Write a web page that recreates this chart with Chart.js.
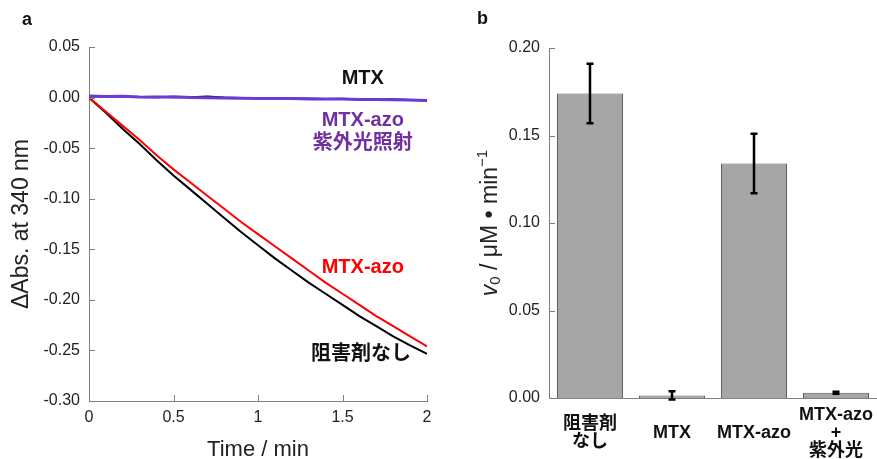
<!DOCTYPE html>
<html>
<head>
<meta charset="utf-8">
<script src="https://cdn.jsdelivr.net/npm/chart.js@4.4.0/dist/chart.umd.min.js"></script>
<style>
    body { margin: 0; background: #fff; }
    #wrap { position: relative; width: 877px; height: 459px; }
    #kinetics { position: absolute; left: 0; top: 0; }
    #rates { position: absolute; left: 440px; top: 0; }
    .panel { position: absolute; font: bold 18px "Liberation Sans", Arial, sans-serif; color: #111; }
</style>
</head>
<body>
<div id="wrap">
    <canvas id="kinetics" width="440" height="459"></canvas>
    <canvas id="rates" width="437" height="459"></canvas>
    <div class="panel" style="left:22px; top:9px;">a</div>
    <div class="panel" style="left:477px; top:8px;">b</div>
</div>
<script>
// ---- panel a : absorbance traces ----
var timeMin = [0, 0.1, 0.2, 0.3, 0.4, 0.5, 0.6, 0.7, 0.8, 0.9, 1.0,
               1.1, 1.2, 1.3, 1.4, 1.5, 1.6, 1.7, 1.8, 1.9, 2.0];
var noInhibitor = [0, -0.015, -0.031, -0.046, -0.062, -0.077, -0.091, -0.105, -0.119, -0.133, -0.146,
                   -0.159, -0.171, -0.183, -0.194, -0.205, -0.216, -0.226, -0.236, -0.245, -0.2535];
var mtxAzo = [0, -0.014, -0.028, -0.042, -0.057, -0.071, -0.084, -0.097, -0.110, -0.123, -0.135,
              -0.147, -0.159, -0.171, -0.183, -0.194, -0.205, -0.216, -0.226, -0.236, -0.246];
var mtx = [0.0010, 0.0012, 0.0008, 0.0005, 0.0009, 0.0002, 0.0004, 0.0010, 0.0000, -0.0003, -0.0006,
           -0.0004, -0.0010, -0.0008, -0.0014, -0.0012, -0.0018, -0.0020, -0.0016, -0.0024, -0.0028];
var mtxAzoUv = [0.0015, 0.0010, 0.0012, 0.0006, 0.0004, 0.0007, 0.0000, -0.0002, -0.0004, -0.0006, -0.0008,
                -0.0010, -0.0009, -0.0013, -0.0015, -0.0014, -0.0018, -0.0020, -0.0022, -0.0025, -0.0030];

// ---- panel b : initial rates ----
var categories = [['阻害剤', 'なし'], 'MTX', 'MTX-azo', ['MTX-azo', '+', '紫外光']];
var v0 = [0.174, 0.0015, 0.134, 0.003];
var v0Err = [0.017, 0.0023, 0.017, 0.0006];

Chart.defaults.font.family = '"Liberation Sans", Arial, "Noto Sans CJK JP", sans-serif';
Chart.defaults.color = '#222';

var axisGrey = '#808080';

function points(ys) {
    return ys.map(function(y, i) { return { x: timeMin[i], y: y }; });
}

function fix2(v) {
    return (Math.abs(v) < 1e-9 ? 0 : v).toFixed(2);
}

// tick marks point into the plot in the original figure
var innerTicks = {
    id: 'innerTicks',
    afterDraw: function(chart, args, opts) {
        var ctx = chart.ctx, area = chart.chartArea;
        ctx.save();
        ctx.strokeStyle = axisGrey;
        ctx.lineWidth = 1;
        (opts.axes || []).forEach(function(id) {
            var s = chart.scales[id];
            s.ticks.forEach(function(t, i) {
                var p = Math.round(s.getPixelForTick(i)) + 0.5;
                ctx.beginPath();
                if (s.isHorizontal()) { ctx.moveTo(p, area.bottom); ctx.lineTo(p, area.bottom - 6); }
                else { ctx.moveTo(area.left, p); ctx.lineTo(area.left + 6, p); }
                ctx.stroke();
            });
        });
        ctx.restore();
    }
};

// curve names written next to the traces
var curveNotes = {
    id: 'curveNotes',
    afterDatasetsDraw: function(chart, args, opts) {
        var ctx = chart.ctx, xs = chart.scales.x, ys = chart.scales.y;
        ctx.save();
        ctx.textAlign = 'center';
        ctx.textBaseline = 'middle';
        ctx.font = 'bold 20px "Liberation Sans", Arial, "Noto Sans CJK JP", sans-serif';
        opts.notes.forEach(function(n) {
            ctx.fillStyle = n.color;
            ctx.fillText(n.text, xs.getPixelForValue(n.t), ys.getPixelForValue(n.v));
        });
        ctx.restore();
    }
};

// first dataset is painted on top
new Chart(document.getElementById('kinetics'), {
    type: 'line',
    data: {
        datasets: [
            { label: 'MTX-azo 紫外光照射', data: points(mtxAzoUv), borderColor: '#6b3bd6', borderWidth: 3 },
            { label: 'MTX', data: points(mtx), borderColor: '#000', borderWidth: 2 },
            { label: 'MTX-azo', data: points(mtxAzo), borderColor: '#ff0000', borderWidth: 2 },
            { label: '阻害剤なし', data: points(noInhibitor), borderColor: '#000', borderWidth: 2 }
        ]
    },
    options: {
        responsive: false,
        animation: false,
        elements: { point: { radius: 0 }, line: { tension: 0 } },
        layout: { padding: { left: 0, top: 47, right: 13, bottom: 0 } },
        plugins: {
            legend: { display: false },
            tooltip: { enabled: false },
            innerTicks: { axes: ['x', 'y'] },
            curveNotes: {
                notes: [
                    { text: 'MTX', color: '#111', t: 1.62, v: 0.019 },
                    { text: 'MTX-azo', color: '#7030a0', t: 1.62, v: -0.0225 },
                    { text: '紫外光照射', color: '#7030a0', t: 1.62, v: -0.0455 },
                    { text: 'MTX-azo', color: '#ff0000', t: 1.62, v: -0.168 },
                    { text: '阻害剤なし', color: '#111', t: 1.61, v: -0.2545 }
                ]
            }
        },
        scales: {
            x: {
                type: 'linear', min: 0, max: 2,
                grid: { display: false, drawTicks: false },
                border: { display: true, color: axisGrey, width: 1 },
                ticks: { stepSize: 0.5, padding: 7, font: { size: 16 }, callback: function(v) { return String(v); } },
                title: { display: true, text: 'Time / min', font: { size: 22, lineHeight: 1 }, padding: { top: 0, bottom: -2 } },
                afterFit: function(s) { s.height = 58; }
            },
            y: {
                min: -0.30, max: 0.05,
                grid: { display: false, drawTicks: false },
                border: { display: true, color: axisGrey, width: 1 },
                ticks: { stepSize: 0.05, padding: 9, font: { size: 16 }, callback: fix2 },
                title: { display: true, text: 'ΔAbs. at 340 nm', font: { size: 23, lineHeight: 1 }, padding: { top: 10 } },
                afterFit: function(s) { s.width = 89; }
            }
        }
    },
    plugins: [innerTicks, curveNotes]
});

// error bars on top of the grey columns
var errorBars = {
    id: 'errorBars',
    afterDatasetsDraw: function(chart) {
        var ctx = chart.ctx, ys = chart.scales.y;
        var meta = chart.getDatasetMeta(0);
        ctx.save();
        ctx.strokeStyle = '#000';
        ctx.lineWidth = 2.5;
        meta.data.forEach(function(bar, i) {
            var hi = ys.getPixelForValue(v0[i] + v0Err[i]);
            var lo = ys.getPixelForValue(v0[i] - v0Err[i]);
            ctx.beginPath();
            ctx.moveTo(bar.x, hi); ctx.lineTo(bar.x, lo);
            ctx.moveTo(bar.x - 3.5, hi); ctx.lineTo(bar.x + 3.5, hi);
            ctx.moveTo(bar.x - 3.5, lo); ctx.lineTo(bar.x + 3.5, lo);
            ctx.stroke();
        });
        ctx.restore();
    }
};

// y title with italic v, subscript 0 and superscript -1
var rateTitle = {
    id: 'rateTitle',
    afterDraw: function(chart) {
        var ctx = chart.ctx, area = chart.chartArea;
        var fam = '"Liberation Sans", Arial, sans-serif';
        var parts = [
            { t: 'v', f: 'italic 23px ' + fam, dy: 0 },
            { t: '0', f: '15px ' + fam, dy: 5 },
            { t: ' / μM • min', f: '23px ' + fam, dy: 0 },
            { t: '−1', f: '15px ' + fam, dy: -8 }
        ];
        ctx.save();
        ctx.fillStyle = '#222';
        ctx.textBaseline = 'middle';
        ctx.textAlign = 'left';
        var total = 0;
        parts.forEach(function(p) { ctx.font = p.f; p.w = ctx.measureText(p.t).width; total += p.w; });
        ctx.translate(51, (area.top + area.bottom) / 2);
        ctx.rotate(-Math.PI / 2);
        var x = -total / 2;
        parts.forEach(function(p) { ctx.font = p.f; ctx.fillText(p.t, x, p.dy); x += p.w; });
        ctx.restore();
    }
};

new Chart(document.getElementById('rates'), {
    type: 'bar',
    data: {
        labels: categories,
        datasets: [{
            data: v0,
            backgroundColor: '#a6a6a6',
            borderColor: '#5e5e5e',
            borderWidth: 1,
            barPercentage: 0.805,
            categoryPercentage: 1
        }]
    },
    options: {
        responsive: false,
        animation: false,
        layout: { padding: { left: 0, top: 48, right: 0, bottom: 0 } },
        plugins: {
            legend: { display: false },
            tooltip: { enabled: false },
            innerTicks: { axes: ['y'] }
        },
        scales: {
            x: {
                // long invisible tick marks push the labels down without widening the side padding
                grid: { display: false, drawTicks: true, tickLength: 17 },
                border: { display: true, color: axisGrey, width: 1 },
                ticks: { padding: 0, crossAlign: 'center', autoSkip: false, maxRotation: 0, minRotation: 0,
                         color: '#111', font: { size: 18, weight: 'bold', lineHeight: 1 } },
                afterFit: function(s) { s.height = 61; }
            },
            y: {
                min: 0, max: 0.2,
                grid: { display: false, drawTicks: false },
                border: { display: true, color: axisGrey, width: 1 },
                ticks: { stepSize: 0.05, padding: 9, font: { size: 16 }, callback: fix2 },
                afterFit: function(s) { s.width = 109; }
            }
        }
    },
    plugins: [innerTicks, errorBars, rateTitle]
});
</script>
</body>
</html>
